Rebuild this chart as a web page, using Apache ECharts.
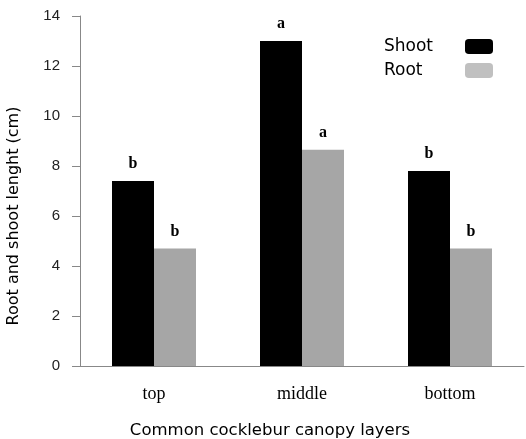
<!DOCTYPE html>
<html>
<head>
<meta charset="utf-8">
<script src="https://cdn.jsdelivr.net/npm/echarts@6/dist/echarts.min.js"></script>
<style>html,body{margin:0;padding:0;background:#fff}#c{width:526px;height:439px}</style>
</head>
<body>
<div id="c"></div>
<script>
var categories = ['top', 'middle', 'bottom'];
var shootValues = [7.4, 13.0, 7.8];
var rootValues = [4.7, 8.65, 4.7];
var shootLetters = ['b', 'a', 'b'];
var rootLetters = ['b', 'a', 'b'];
var yTicks = [0, 2, 4, 6, 8, 10, 12, 14];

var chart = echarts.init(document.getElementById('c'));
var letterLabel = {
  show: true, position: 'top', distance: 9,
  fontFamily: 'Liberation Serif', fontWeight: 'bold', fontSize: 16, color: '#000'
};
function mk(vals, letters) {
  return vals.map(function (v, i) {
    return { value: v, label: { formatter: letters[i] } };
  });
}
chart.setOption({
  animation: false,
  grid: { left: 80, right: 2, top: 16, bottom: 73, outerBoundsMode: 'none', containLabel: false },
  legend: {
    orient: 'vertical', left: 384, top: 38, align: 'right', padding: 0,
    itemWidth: 28, itemHeight: 15, itemGap: 7, icon: 'roundRect',
    formatter: '{t|{name}}',
    textStyle: {
      fontFamily: 'DejaVu Sans', fontSize: 17, color: '#000', lineHeight: 15,
      rich: { t: { width: 76, align: 'left', fontFamily: 'DejaVu Sans', fontSize: 17, color: '#000', lineHeight: 15 } }
    },
    data: [
      { name: 'Shoot', itemStyle: { color: '#000' } },
      { name: 'Root', itemStyle: { color: '#c0c0c0' } }
    ]
  },
  xAxis: {
    type: 'category', data: categories,
    axisLine: { lineStyle: { color: '#888' } },
    axisTick: { length: 7, lineStyle: { color: '#888' } },
    axisLabel: { margin: 19, fontFamily: 'Liberation Serif', fontSize: 18, color: '#000' },
    name: 'Common cocklebur canopy layers', nameLocation: 'middle', nameGap: 56,
    nameTextStyle: { fontFamily: 'DejaVu Sans', fontSize: 16.5, color: '#000', padding: [0, 64, 0, 0] }
  },
  yAxis: {
    type: 'value', min: yTicks[0], max: yTicks[yTicks.length - 1], interval: 2,
    splitLine: { show: false },
    axisLine: { show: true, lineStyle: { color: '#888' } },
    axisTick: { show: true, length: 8, lineStyle: { color: '#888' } },
    axisLabel: { margin: 20, fontFamily: 'Liberation Sans', fontSize: 15, color: '#222' },
    name: 'Root and shoot lenght (cm)', nameLocation: 'middle', nameGap: 58,
    nameTextStyle: { fontFamily: 'DejaVu Sans', fontSize: 16, color: '#000', padding: [0, 50, 0, 0] }
  },
  series: [
    { name: 'Shoot', type: 'bar', data: mk(shootValues, shootLetters), barWidth: 42, barGap: '0%',
      itemStyle: { color: '#000' }, label: letterLabel },
    { name: 'Root', type: 'bar', data: mk(rootValues, rootLetters), barWidth: 42, barGap: '0%',
      itemStyle: { color: '#a6a6a6' }, label: letterLabel }
  ]
});
</script>
</body>
</html>
